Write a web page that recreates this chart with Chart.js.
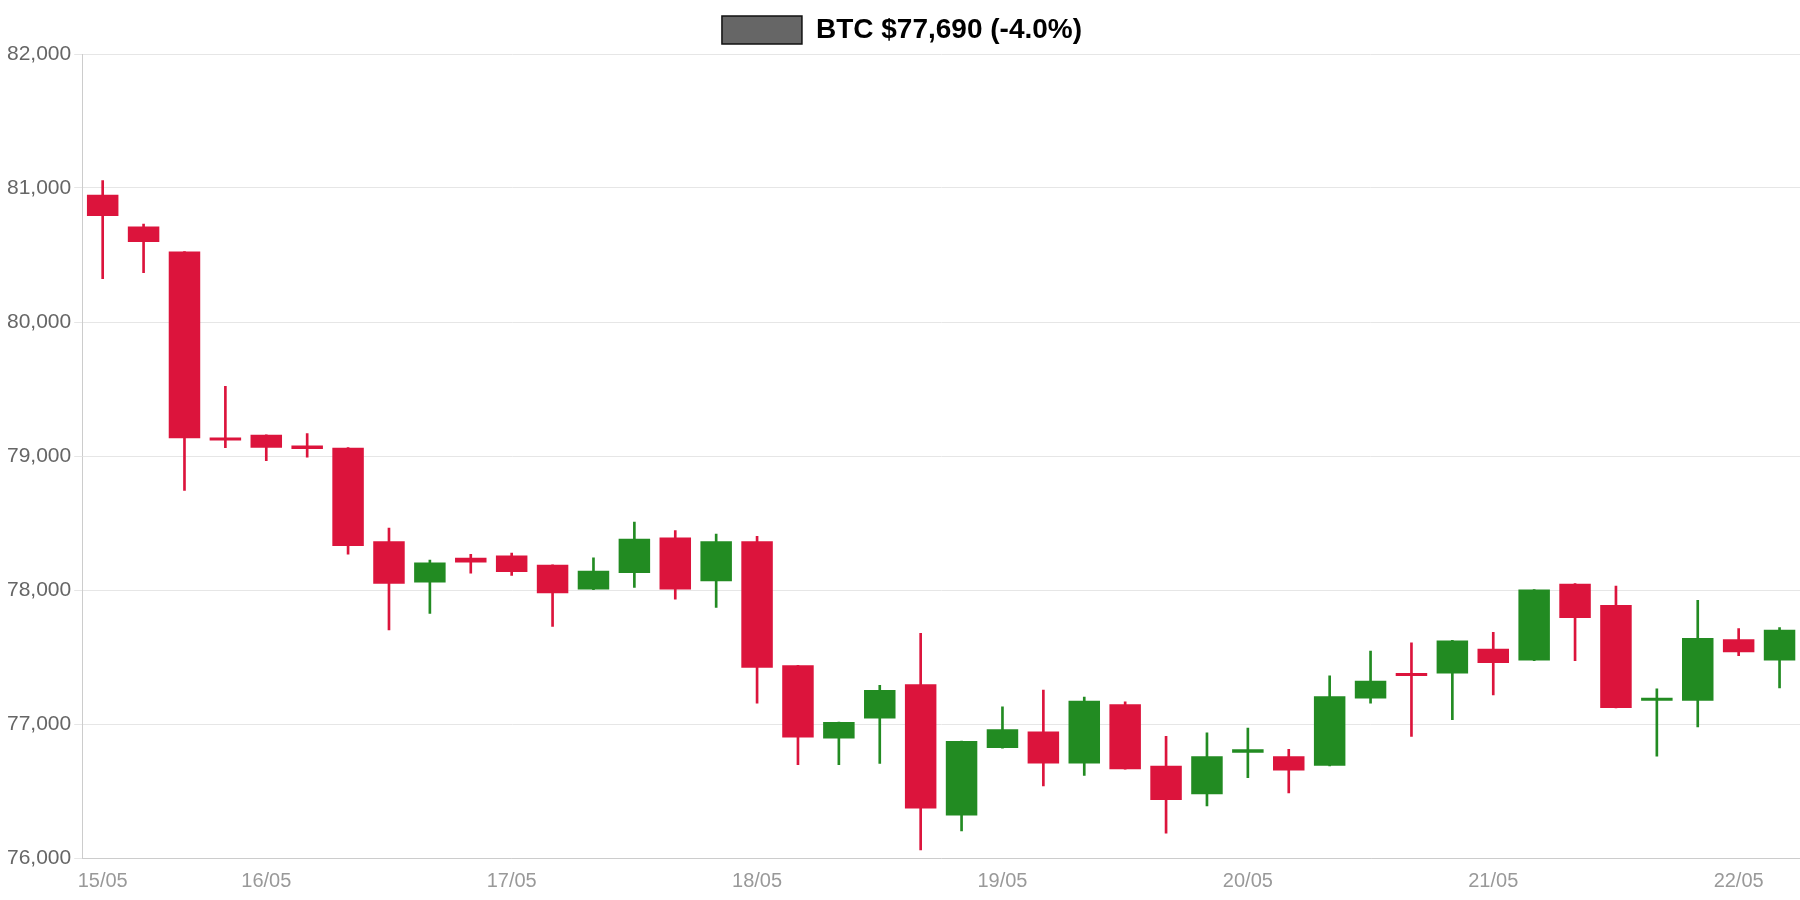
<!DOCTYPE html>
<html><head><meta charset="utf-8">
<script src="https://cdn.jsdelivr.net/npm/chart.js@4/dist/chart.umd.min.js"></script>
<style>html,body{margin:0;padding:0;background:#fff}#wrap{width:1800px;height:900px}</style>
</head><body><div id="wrap"><canvas id="c"></canvas></div>
<script>
const labels = ["15/05","","","","16/05","","","","","","17/05","","","","","","18/05","","","","","","19/05","","","","","","20/05","","","","","","21/05","","","","","","22/05",""];
const opens  = [80950,80712,80526,79132,79158,79079,79062,78364,78056,78241,78258,78188,78003,78126,78391,78065,78364,77438,76891,77041,77297,76317,76820,76944,76706,77147,76688,76476,76785,76759,76688,77191,77376,77376,77562,77473,78047,77888,77173,77173,77632,77473];
const closes = [80791,80597,79132,79115,79062,79053,78329,78047,78206,78206,78135,77976,78144,78382,78003,78364,77420,76900,77015,77253,76370,76873,76961,76706,77173,76662,76432,76759,76811,76653,77208,77323,77359,77624,77456,78003,77791,77120,77191,77641,77535,77703];
const highs  = [81056,80730,80526,79520,79158,79167,79062,78462,78223,78267,78276,78188,78241,78506,78444,78417,78400,77438,77015,77288,77676,76873,77129,77253,77200,77165,76908,76935,76970,76811,77359,77544,77606,77624,77685,78003,78047,78029,77262,77923,77712,77720];
const lows   = [80323,80368,78744,79062,78965,78991,78267,77703,77826,78126,78109,77729,78003,78020,77932,77870,77156,76697,76697,76706,76061,76203,76820,76538,76617,76662,76185,76388,76600,76485,76688,77156,76908,77032,77217,77473,77473,77120,76759,76979,77509,77270];
const UP='#228b22', DOWN='#dc143c';
const col = ctx => closes[ctx.dataIndex] >= opens[ctx.dataIndex] ? UP : DOWN;
new Chart(document.getElementById('c'), {
  type:'bar',
  data:{labels, datasets:[
    {label:'BTC $77,690 (-4.0%)', data:opens.map((o,i)=>[o,closes[i]]), backgroundColor:col, grouped:false, barPercentage:0.77, categoryPercentage:1, minBarLength:3, order:1},
    {label:'wick', data:lows.map((l,i)=>[l,highs[i]]), backgroundColor:col, grouped:false, barThickness:2, order:2}
  ]},
  options:{responsive:true, maintainAspectRatio:false, animation:false,
    layout:{padding:{left:4,right:0,top:6,bottom:4}},
    plugins:{legend:{labels:{
      font:{size:28,weight:'bold',family:'Liberation Sans'}, color:'#111', boxWidth:80, boxHeight:28,
      generateLabels:()=>[{text:'BTC $77,690 (-4.0%)', fillStyle:'#666', strokeStyle:'#111', lineWidth:1.5, datasetIndex:0}]
    }}, tooltip:{enabled:false}},
    scales:{
      x:{offset:true, grid:{display:false}, border:{color:'#ccc'},
         ticks:{autoSkip:false, maxRotation:0, color:'#999', font:{size:20,family:'Liberation Sans'}}},
      y:{min:76000,max:82000, grid:{color:'#e6e6e6'}, border:{color:'#ccc'},
         ticks:{stepSize:1000, color:'#666', font:{size:21,family:'Liberation Sans'}, callback:v=>v.toLocaleString('en-US')}}
    }}
});
</script></body></html>
